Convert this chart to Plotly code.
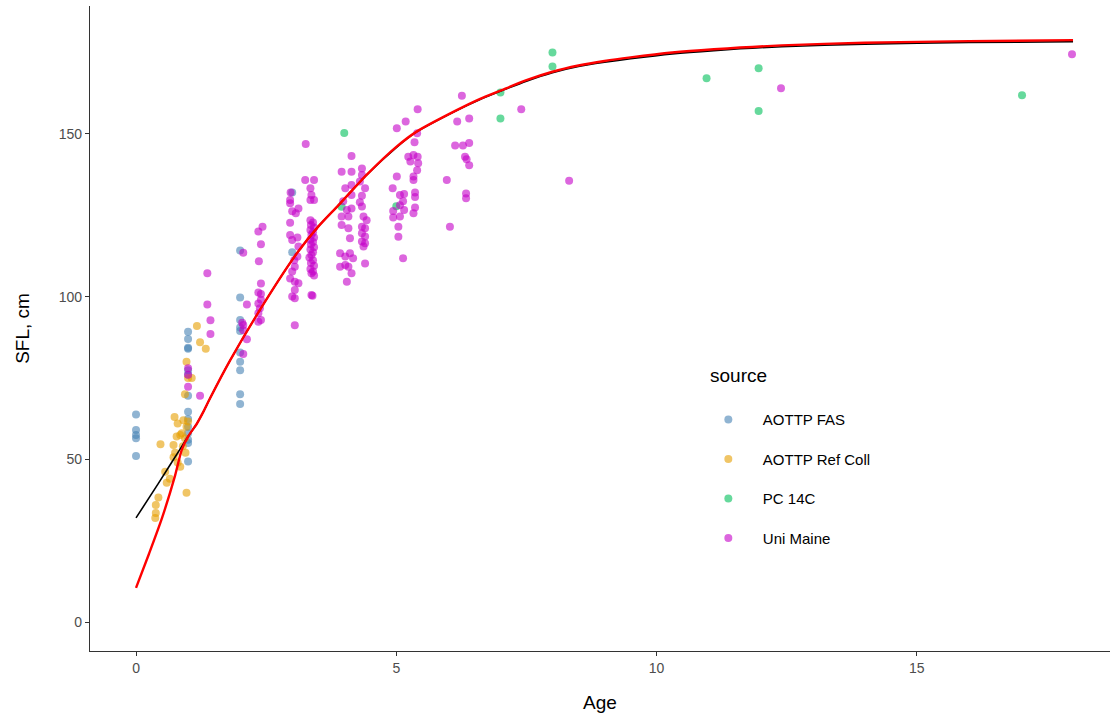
import plotly.graph_objects as go

# ---- data ----
fas_age = [0, 0, 0, 0, 0,
           1, 1, 1, 1, 1, 1, 1, 1, 1, 1, 1, 1, 1, 1,
           2, 2, 2, 2, 2, 2, 2, 2, 2, 2,
           3, 3]
fas_sfl = [63.8, 59, 57.5, 56.5, 51,
           89.2, 87, 84.3, 84, 77.4, 76, 69.5, 64.6, 62.4, 60, 58, 56, 55, 49.3,
           114.2, 99.7, 92.8, 90.5, 89.4, 82.8, 80, 77.4, 70, 67,
           132, 113.6]

ref_age = [1.17, 1.23, 1.34, 0.97, 1.07, 1.0, 0.94, 0.74, 0.91, 1.0, 0.97, 0.85, 0.78,
           0.94, 0.88, 0.47, 0.72, 0.75, 0.72, 0.85, 0.56, 0.59, 0.97, 0.43, 0.38,
           0.38, 0.37, 0.65, 0.8, 0.9, 0.95, 0.8]
ref_sfl = [91, 86, 84, 80, 75, 75, 70, 63, 62, 61.6, 60, 57.5, 57,
           56.5, 58, 54.6, 54.4, 52, 50.6, 47.7, 46.2, 42.8, 39.7, 38.3, 36,
           33.5, 32, 44, 49, 54, 52, 61]

pc_age = [4.0, 3.95, 5.0, 7.0, 7.0, 8.0, 8.0, 10.96, 11.96, 11.96, 17.02]
pc_sfl = [150.3, 127.6, 127.8, 162.7, 154.7, 175, 170.7, 167.1, 170.2, 157, 161.9]

um_age = [1.0, 1.0, 1.0, 1.23, 1.37, 1.37, 1.43, 1.43,
          2.06, 2.13, 2.06, 2.06, 2.13, 2.06, 2.04,
          2.36, 2.4, 2.35, 2.43, 2.4, 2.35, 2.4, 2.35, 2.38, 2.35, 2.4, 2.35, 2.4,
          3.05, 2.97, 2.96, 2.96, 3.12, 3.0, 2.96, 2.96, 3.0, 3.1, 3.12, 3.04, 3.05,
          3.0, 2.96, 3.05, 3.12, 3.0, 3.05, 3.07, 3.1, 3.05,
          3.26, 3.25, 3.42, 3.35, 3.37, 3.35, 3.42, 3.39, 3.37,
          3.35, 3.4, 3.36, 3.42, 3.35, 3.4, 3.37, 3.42, 3.35, 3.4, 3.36, 3.42,
          3.35, 3.4, 3.37, 3.33, 3.4, 3.36, 3.42, 3.35, 3.4, 3.37, 3.42,
          4.14, 3.95, 4.14, 4.34, 4.34, 4.02, 4.14, 4.3, 4.4, 4.14, 4.34, 3.98,
          4.05, 4.14, 3.95, 4.08, 3.95, 4.08, 4.34, 4.37, 4.43, 4.34, 4.34, 4.4,
          4.11, 4.34, 4.4, 4.37, 3.92, 4.11, 4.02, 3.92, 4.02, 4.08, 4.14, 4.05,
          4.4, 4.17, 4.4, 4.3,
          5.41, 5.18, 5.01, 5.4, 5.35, 5.33, 5.23, 5.41, 5.27, 5.42, 5.4, 5.33,
          5.33, 5.01, 4.93, 5.07, 5.15, 5.36, 5.13, 5.07, 5.36, 5.15, 4.94, 5.33,
          5.07, 4.94, 5.04, 5.04, 5.13, 5.36,
          6.26, 6.4, 6.17, 6.13, 6.28, 6.4, 6.32, 6.35, 6.4, 5.97, 6.34, 6.34, 6.03,
          7.4, 8.32, 12.39, 17.98]
um_sfl = [78, 72.3, 76, 69.5, 107.2, 97.6, 92.7, 88.5,
          113.5, 97.6, 91.3, 89.7, 86.9, 82.4, 92,
          110.9, 116.1, 120, 121.5, 104, 101.3, 100.8, 97.9, 96.4, 94.9, 92.8, 92.3, 99,
          91.2, 132, 129.7, 128.7, 127.1, 126.2, 122.7, 118.9, 117.4, 118.2, 115.4, 111.2, 109.2,
          107.7, 105.6, 104.6, 104.1, 100, 102, 125.6, 112.3, 99.5,
          146.9, 135.8, 135.8, 133.3, 131.2, 129.7, 129.7, 100.3, 100.5,
          123.5, 122.8, 122, 121.2, 120.5, 119.8, 119, 118.2, 117.5, 116.8, 116, 115.2,
          114.5, 113.6, 112.8, 112, 111.2, 110.3, 109.5, 108.5, 107.7, 107.2, 106.5,
          143.2, 138.4, 138.4, 139.4, 137.4, 133.3, 134.3, 135.4, 133.3, 131.2, 131, 129.3,
          126.6, 127.1, 124.6, 124.6, 122, 121, 127.7, 124.6, 123.5, 121.5, 119.5, 121,
          117.9, 116.9, 116.4, 115.4, 113.3, 113.3, 112.3, 109.2, 109.7, 109.2, 107.2, 104.6,
          110.2, 111.8, 118.5, 129,
          157.6, 153.8, 151.7, 150.2, 147.4, 143.5, 143, 143, 141.5, 141, 138.8, 136.9,
          135.8, 136.9, 133.3, 131.2, 131.5, 130.6, 129.3, 128.1, 127.4, 126.6, 126.3, 125.6,
          124.6, 124.3, 121.5, 118.4, 111.8, 132,
          161.7, 154.7, 153.8, 146.4, 146.4, 147.2, 143, 142.2, 140.4, 135.8, 131.7, 130.2, 121.5,
          157.6, 135.6, 164, 174.5]

black_age = [0, 0.43, 0.88, 1.0, 1.17, 1.3, 1.42, 1.81, 2.5, 3.09, 3.5, 3.89, 4.43, 5.0,
             5.39, 6.16, 6.6, 7.0, 7.5, 8.0, 8.5, 9.0, 9.5, 10.3, 11.1, 12.4, 14, 16, 18]
black_sfl = [32, 42.6, 54, 57, 61, 64.8, 68.7, 80.5, 99, 113.3, 121.5, 128.1, 137.4, 145.8,
             150.6, 157.2, 160.5, 163.1, 166.2, 168.8, 170.7, 172.0, 173.1, 174.6, 175.6,
             176.8, 177.6, 178.1, 178.3]

red_age = [0, 0.25, 0.5, 0.75, 0.88, 1.0, 1.17, 1.3, 1.42, 1.81, 2.5, 3.09, 3.5, 3.89, 4.43,
           5.0, 5.39, 6.16, 6.6, 7.0, 7.5, 8.0, 8.5, 9.0, 9.5, 10.3, 11.1, 12.4, 14, 16, 18]
red_sfl = [10.5, 21, 32, 45, 53, 57, 61, 64.8, 68.7, 80.5, 99, 113.3, 121.5, 128.1, 137.4,
           146, 150.7, 157.3, 160.7, 163.3, 166.5, 169.1, 171.0, 172.4, 173.5, 175.0, 176,
           177.2, 178, 178.5, 178.8]

series = [
    ("AOTTP FAS", fas_age, fas_sfl, "#4682B4"),
    ("AOTTP Ref Coll", ref_age, ref_sfl, "#E69F00"),
    ("PC 14C", pc_age, pc_sfl, "#00C05A"),
    ("Uni Maine", um_age, um_sfl, "#C400C8"),
]

fig = go.Figure()
for name, xs, ys, col in series:
    fig.add_trace(go.Scatter(
        x=xs, y=ys, mode="markers", name=name, legendgroup=name,
        marker=dict(color=col, size=8, opacity=0.6, line=dict(width=0)),
    ))

fig.add_trace(go.Scatter(x=black_age, y=black_sfl, mode="lines", showlegend=False,
                         line=dict(color="black", width=1.6, shape="spline", smoothing=0.7),
                         hoverinfo="skip"))
fig.add_trace(go.Scatter(x=red_age, y=red_sfl, mode="lines", showlegend=False,
                         line=dict(color="#FF0000", width=2.4, shape="spline", smoothing=0.7),
                         hoverinfo="skip"))

axis_common = dict(
    showgrid=False, zeroline=False, showline=True, linecolor="#333333", linewidth=1.1,
    ticks="outside", ticklen=4, tickcolor="#333333", tickwidth=1.1,
    tickfont=dict(family="Liberation Sans, Arial", size=14, color="#4D4D4D"),
)

fig.update_layout(
    width=1112, height=719,
    paper_bgcolor="white", plot_bgcolor="white",
    margin=dict(l=90, r=2, t=6, b=68),
    font=dict(family="Liberation Sans, Arial", color="black"),
    xaxis=dict(range=[-0.884, 18.71], tickvals=[0, 5, 10, 15],
               title=dict(text="Age", font=dict(size=19, color="black"), standoff=20),
               **axis_common),
    yaxis=dict(range=[-8.9, 189.3], tickvals=[0, 50, 100, 150],
               title=dict(text="SFL, cm", font=dict(size=19, color="black"), standoff=24),
               **axis_common),
    legend=dict(
        x=0.592, y=0.384, xanchor="left", yanchor="top",
        font=dict(size=15, color="black"),
        tracegroupgap=17, itemwidth=59, bgcolor="rgba(0,0,0,0)",
    ),
    annotations=[dict(text="source", x=0.606, y=0.427, xref="paper", yref="paper",
                      xanchor="left", yanchor="middle", showarrow=False,
                      font=dict(size=19, color="black"))],
)

fig.write_html("out.html")
